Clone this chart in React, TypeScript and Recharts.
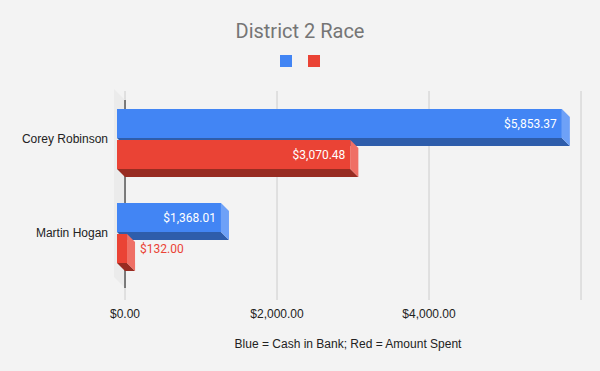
import React from 'react';
import { BarChart, Bar, XAxis, YAxis, CartesianGrid, Legend, LabelList, ReferenceArea } from 'recharts';

const candidates = ['Corey Robinson', 'Martin Hogan'];
const cashInBank = [5853.37, 1368.01];
const amountSpent = [3070.48, 132.0];
const xTicks = [0, 2000, 4000, 6000];

const data = candidates.map((name, i) => ({ name, cash: cashInBank[i], spent: amountSpent[i] }));

const DEPTH = 8;
const WALL = 11;
const BLUE = '#4285f4';
const RED = '#ea4335';

const fmt = (v: number) =>
  '$' + Number(v).toLocaleString('en-US', { minimumFractionDigits: 2, maximumFractionDigits: 2 });

const make3DBar = (front: string, bottom: string, side: string) => (props: any) => {
  const { x, y, width, height } = props;
  if (x == null || width == null) return <g />;
  const fx = x - DEPTH;
  const fy = y - DEPTH;
  return (
    <g>
      <polygon
        points={`${fx},${fy + height} ${fx + width},${fy + height} ${x + width},${y + height} ${x},${y + height}`}
        fill={bottom}
      />
      <polygon
        points={`${fx + width},${fy} ${x + width},${y} ${x + width},${y + height} ${fx + width},${fy + height}`}
        fill={side}
      />
      <rect x={fx} y={fy} width={width} height={height} fill={front} />
    </g>
  );
};

const makeLabel = (color: string) => (props: any) => {
  const { x, y, width, height, value } = props;
  if (x == null || value == null) return null;
  const text = fmt(value);
  const estW = text.length * 6.2;
  const cy = y - DEPTH + height / 2;
  if (width - DEPTH > estW + 12) {
    return (
      <text x={x + width - DEPTH - 5} y={cy} textAnchor="end" dominantBaseline="central" fill="#ffffff" fontSize={12} fontFamily="Roboto, sans-serif">
        {text}
      </text>
    );
  }
  return (
    <text x={x + width + 5} y={cy} textAnchor="start" dominantBaseline="central" fill={color} fontSize={12} fontFamily="Roboto, sans-serif">
      {text}
    </text>
  );
};

const Wall = (props: any) => {
  const { x, y, height } = props;
  if (x == null) return <g />;
  return (
    <g>
      <polygon
        points={`${x - WALL},${y - WALL} ${x},${y} ${x},${y + height} ${x - WALL},${y + height - WALL}`}
        fill="#ebebeb"
      />
      <line x1={x} y1={y} x2={x} y2={y + height} stroke="#333333" strokeWidth={1.2} />
    </g>
  );
};

const CategoryTick = (props: any) => {
  const { x, y, payload } = props;
  return (
    <text x={x} y={y - DEPTH} textAnchor="end" dominantBaseline="central" fill="#222222" fontSize={12} fontFamily="'Liberation Sans', Arial, sans-serif">
      {payload.value}
    </text>
  );
};

const LegendContent = () => (
  <div style={{ display: 'flex', justifyContent: 'center', gap: 16 }}>
    <div style={{ width: 12, height: 12, background: BLUE }} />
    <div style={{ width: 12, height: 12, background: RED }} />
  </div>
);

export default function App() {
  return (
    <div style={{ position: 'absolute', left: 0, top: 0, width: 600, height: 371, background: '#f3f3f3' }}>
      <div
        style={{
          position: 'absolute',
          top: 21,
          left: 0,
          width: 600,
          height: 20,
          lineHeight: '20px',
          textAlign: 'center',
          fontFamily: 'Roboto, sans-serif',
          fontSize: 20,
          color: '#757575',
        }}
      >
        District 2 Race
      </div>
      <BarChart
        width={600}
        height={371}
        data={data}
        layout="vertical"
        margin={{ top: 91, right: 19, bottom: 0, left: 0 }}
        barSize={29}
        barGap={2}
      >
        <CartesianGrid horizontal={false} stroke="#cccccc" />
        <ReferenceArea x1={0} x2={0} shape={Wall as any} />
        <XAxis
          type="number"
          domain={[0, 6000]}
          ticks={xTicks}
          axisLine={false}
          tickLine={false}
          tickSize={0}
          tickMargin={9}
          height={71}
          tick={{ fill: '#222222', fontSize: 12, fontFamily: "'Liberation Sans', Arial, sans-serif" }}
          tickFormatter={(v: number) => (v === 6000 ? '' : fmt(v))}
          label={{
            value: 'Blue = Cash in Bank; Red = Amount Spent',
            position: 'insideBottom',
            offset: 23,
            dx: -5,
            fill: '#222222',
            fontSize: 12,
            fontFamily: "'Liberation Sans', Arial, sans-serif",
          }}
        />
        <YAxis
          type="category"
          dataKey="name"
          width={125}
          axisLine={false}
          tickLine={false}
          tickSize={0}
          tickMargin={17}
          padding={{ top: 9, bottom: 12 }}
          tick={<CategoryTick />}
        />
        <Legend
          verticalAlign="middle"
          content={<LegendContent />}
          wrapperStyle={{ position: 'absolute', top: 55, left: 0, width: 600, height: 12 }}
        />
        <Bar dataKey="cash" name=" " fill={BLUE} isAnimationActive={false} shape={make3DBar(BLUE, '#2e5dab', '#6ea1f7')}>
          <LabelList dataKey="cash" content={makeLabel(BLUE)} />
        </Bar>
        <Bar dataKey="spent" name=" " fill={RED} isAnimationActive={false} shape={make3DBar(RED, '#982c22', '#ef6f65')}>
          <LabelList dataKey="spent" content={makeLabel(RED)} />
        </Bar>
      </BarChart>
    </div>
  );
}
